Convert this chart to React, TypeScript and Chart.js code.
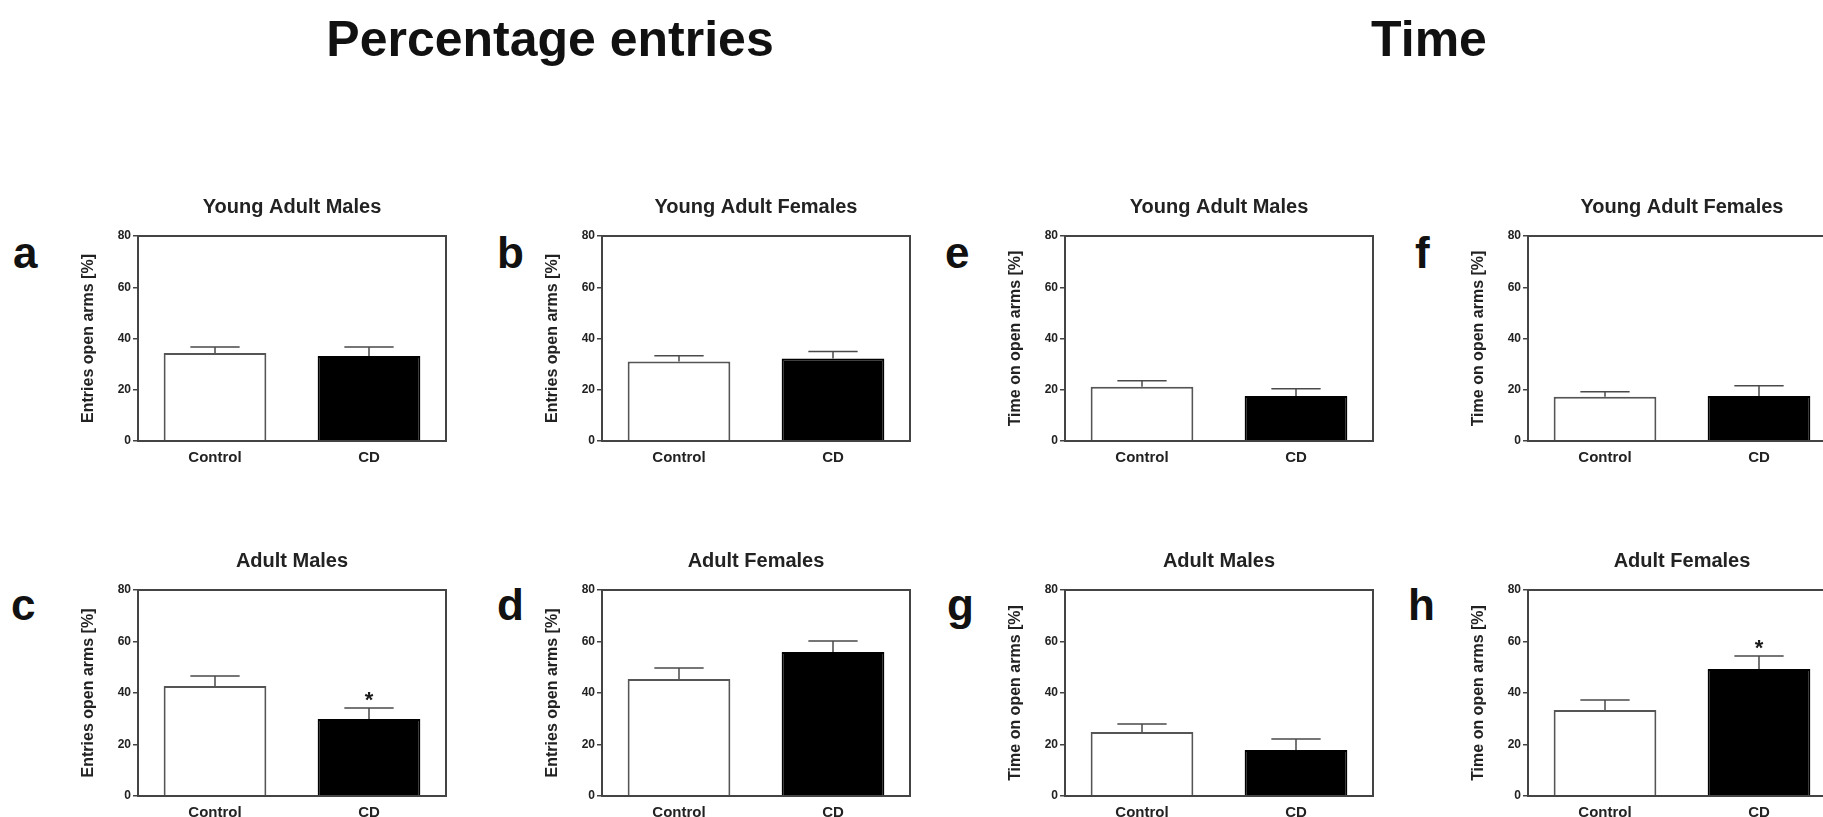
import React, { useEffect, useRef } from "react";
import { Chart, registerables } from "chart.js";

Chart.register(...registerables);

// ---------- data ----------
const CATEGORIES = ["Control", "CD"];
const Y_TICKS = [0, 20, 40, 60, 80];

const GROUP_TITLES = ["Percentage entries", "Time"];
const SUBTITLES = ["Young Adult Males", "Young Adult Females", "Adult Males", "Adult Females"];
const Y_TITLES = ["Entries open arms [%]", "Time on open arms [%]"];

const A_MEAN = [34.3, 33.2];
const A_SEM = [2.4, 3.5];
const A_SIG = [false, false];

const B_MEAN = [31.0, 32.2];
const B_SEM = [2.3, 2.7];
const B_SIG = [false, false];

const C_MEAN = [42.7, 29.9];
const C_SEM = [3.9, 4.3];
const C_SIG = [false, true];

const D_MEAN = [45.4, 55.9];
const D_SEM = [4.3, 4.3];
const D_SIG = [false, false];

const E_MEAN = [21.2, 17.6];
const E_SEM = [2.3, 2.8];
const E_SIG = [false, false];

const F_MEAN = [17.3, 17.6];
const F_SEM = [1.9, 4.0];
const F_SIG = [false, false];

const G_MEAN = [24.9, 17.9];
const G_SEM = [3.1, 4.2];
const G_SIG = [false, false];

const H_MEAN = [33.4, 49.3];
const H_SEM = [3.9, 5.1];
const H_SIG = [false, true];

// ---------- layout ----------
const FONT = '"Liberation Sans", Arial, Helvetica, sans-serif';
const COL_LEFT = [138, 602, 1065, 1528];
const ROW_TOP = [236, 590];
const ROW_H = [205, 206];
const PLOT_W = 308;
const Y_AXIS_W = 60;
const TITLE_H = 60;
const X_AXIS_H = 30;

type PanelDef = {
  letter: string;
  col: number;
  row: number;
  title: string;
  yTitle: string;
  mean: number[];
  sem: number[];
  sig: boolean[];
  letterX: number;
};

const PANELS: PanelDef[] = [
  { letter: "a", col: 0, row: 0, title: SUBTITLES[0], yTitle: Y_TITLES[0], mean: A_MEAN, sem: A_SEM, sig: A_SIG, letterX: 13 },
  { letter: "b", col: 1, row: 0, title: SUBTITLES[1], yTitle: Y_TITLES[0], mean: B_MEAN, sem: B_SEM, sig: B_SIG, letterX: 497 },
  { letter: "e", col: 2, row: 0, title: SUBTITLES[0], yTitle: Y_TITLES[1], mean: E_MEAN, sem: E_SEM, sig: E_SIG, letterX: 945 },
  { letter: "f", col: 3, row: 0, title: SUBTITLES[1], yTitle: Y_TITLES[1], mean: F_MEAN, sem: F_SEM, sig: F_SIG, letterX: 1415 },
  { letter: "c", col: 0, row: 1, title: SUBTITLES[2], yTitle: Y_TITLES[0], mean: C_MEAN, sem: C_SEM, sig: C_SIG, letterX: 11 },
  { letter: "d", col: 1, row: 1, title: SUBTITLES[3], yTitle: Y_TITLES[0], mean: D_MEAN, sem: D_SEM, sig: D_SIG, letterX: 497 },
  { letter: "g", col: 2, row: 1, title: SUBTITLES[2], yTitle: Y_TITLES[1], mean: G_MEAN, sem: G_SEM, sig: G_SIG, letterX: 947 },
  { letter: "h", col: 3, row: 1, title: SUBTITLES[3], yTitle: Y_TITLES[1], mean: H_MEAN, sem: H_SEM, sig: H_SIG, letterX: 1408 },
];

const LETTER_BASELINE = [268, 620];

function Panel({ p }: { p: PanelDef }) {
  const ref = useRef<HTMLCanvasElement | null>(null);
  const w = Y_AXIS_W + PLOT_W + 8;
  const h = TITLE_H + ROW_H[p.row] + X_AXIS_H;
  const left = COL_LEFT[p.col] - Y_AXIS_W;
  const top = ROW_TOP[p.row] - TITLE_H;

  useEffect(() => {
    if (!ref.current) return;
    const errPlugin = {
      id: "errbox",
      afterDatasetsDraw(chart: any) {
        const { ctx, chartArea: ca, scales } = chart;
        const meta = chart.getDatasetMeta(0);
        ctx.save();
        ctx.strokeStyle = "#4a4a4a";
        ctx.lineWidth = 1.5;
        meta.data.forEach((bar: any, i: number) => {
          const x = bar.x;
          const y0 = scales.y.getPixelForValue(p.mean[i]);
          const y1 = scales.y.getPixelForValue(p.mean[i] + p.sem[i]);
          const half = bar.width * 0.24;
          ctx.beginPath();
          ctx.moveTo(x, y0);
          ctx.lineTo(x, y1);
          ctx.moveTo(x - half, y1);
          ctx.lineTo(x + half, y1);
          ctx.stroke();
          if (p.sig[i]) {
            ctx.fillStyle = "#1a1a1a";
            ctx.font = `bold 22px ${FONT}`;
            ctx.textAlign = "center";
            ctx.textBaseline = "alphabetic";
            ctx.fillText("*", x, y1 - 1);
          }
        });
        ctx.lineWidth = 2;
        ctx.strokeStyle = "#444";
        ctx.strokeRect(ca.left, ca.top, ca.right - ca.left, ca.bottom - ca.top);
        ctx.restore();
      },
    };

    const chart = new Chart(ref.current, {
      type: "bar",
      data: {
        labels: CATEGORIES,
        datasets: [
          {
            data: p.mean,
            backgroundColor: ["#ffffff", "#000000"],
            borderColor: ["#555555", "#000000"],
            borderWidth: 2,
            barPercentage: 0.667,
            categoryPercentage: 1.0,
          },
        ],
      },
      options: {
        animation: false,
        responsive: false,
        devicePixelRatio: 1,
        layout: { padding: { left: 0, right: 8, top: 0, bottom: 0 } },
        plugins: {
          legend: { display: false },
          tooltip: { enabled: false },
          title: {
            display: true,
            fullSize: false,
            text: p.title,
            color: "#222",
            font: { family: FONT, size: 20, weight: "bold", lineHeight: 1.2 },
            padding: { top: 19, bottom: 17 },
          },
        },
        scales: {
          x: {
            grid: { display: false, drawTicks: false },
            border: { display: false },
            ticks: {
              color: "#222",
              padding: 8,
              font: { family: FONT, size: 15, weight: "bold" },
            },
            afterFit: (s: any) => {
              s.height = X_AXIS_H;
            },
          },
          y: {
            min: 0,
            max: 80,
            afterBuildTicks: (s: any) => {
              s.ticks = Y_TICKS.map((v) => ({ value: v }));
            },
            grid: {
              drawOnChartArea: false,
              drawTicks: true,
              tickLength: 5,
              color: "#444",
              lineWidth: 1.5,
            },
            border: { display: false },
            ticks: {
              color: "#222",
              padding: 2,
              font: { family: FONT, size: 12, weight: "bold" },
            },
            title: {
              display: true,
              text: p.yTitle,
              color: "#222",
              padding: { top: 1, bottom: 0 },
              font: { family: FONT, size: 16, weight: "bold", lineHeight: 1.2 },
            },
            afterFit: (s: any) => {
              s.width = Y_AXIS_W;
            },
          },
        },
      },
      plugins: [errPlugin],
    });
    return () => chart.destroy();
  }, []);

  return (
    <canvas
      ref={ref}
      width={w}
      height={h}
      style={{ position: "absolute", left, top, width: w, height: h }}
    />
  );
}

export default function App() {
  const titleStyle: React.CSSProperties = {
    position: "absolute",
    top: 14,
    transform: "translateX(-50%)",
    fontSize: 50,
    lineHeight: 1,
    fontWeight: "bold",
    color: "#111",
    whiteSpace: "nowrap",
  };
  return (
    <div
      style={{
        position: "absolute",
        left: 0,
        top: 0,
        width: 1823,
        height: 817,
        overflow: "hidden",
        background: "#fff",
        fontFamily: FONT,
      }}
    >
      <div style={{ ...titleStyle, left: 550 }}>{GROUP_TITLES[0]}</div>
      <div style={{ ...titleStyle, left: 1429 }}>{GROUP_TITLES[1]}</div>
      {PANELS.map((p) => (
        <div
          key={"l" + p.letter}
          style={{
            position: "absolute",
            left: p.letterX,
            top: LETTER_BASELINE[p.row] - 37,
            fontSize: 44,
            lineHeight: 1,
            fontWeight: "bold",
            color: "#111",
          }}
        >
          {p.letter}
        </div>
      ))}
      {PANELS.map((p) => (
        <Panel key={p.letter} p={p} />
      ))}
    </div>
  );
}
